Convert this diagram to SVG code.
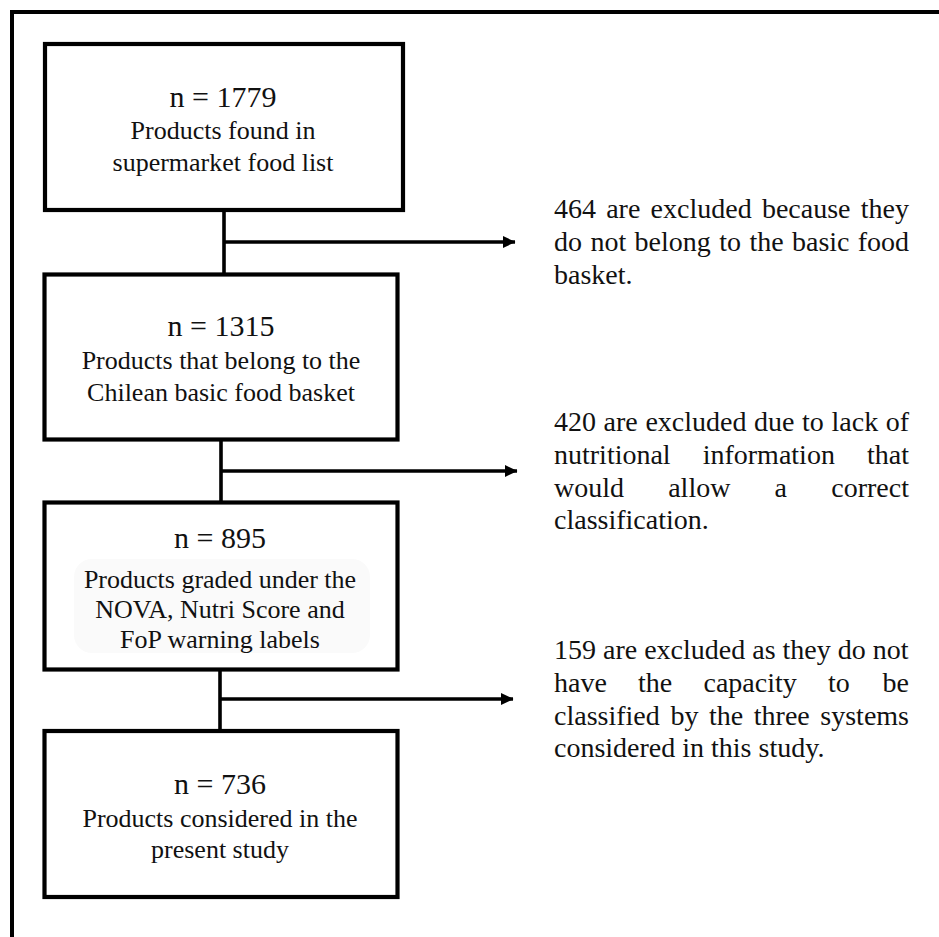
<svg xmlns="http://www.w3.org/2000/svg" width="939" height="937" viewBox="0 0 939 937">
  <defs>
    <style>
      .box { fill: #ffffff; stroke: #000000; stroke-width: 4.2; }
      .frame { fill: none; stroke: #000000; stroke-width: 4; }
      .conn { fill: none; stroke: #000000; stroke-width: 3.6; }
      .t { font-family: "Liberation Serif", "Times New Roman", serif; fill: #111111; }
      .n { font-size: 30px; text-anchor: middle; }
      .d { font-size: 26px; text-anchor: middle; }
      .r { font-size: 28px; }
      .e { text-anchor: end; }
    </style>
    <marker id="arrow" markerWidth="14" markerHeight="14" refX="12" refY="7" orient="auto" markerUnits="userSpaceOnUse">
      <path d="M0,1 L12.5,7 L0,13 Z" fill="#000000"/>
    </marker>
  </defs>

  <rect width="939" height="937" fill="#ffffff"/>

  <!-- outer frame (extends beyond the canvas on right and bottom) -->
  <rect class="frame" x="12" y="12" width="1000" height="1000"/>

  <!-- connectors -->
  <g id="connectors">
    <line class="conn" x1="224" y1="211" x2="224" y2="273"/>
    <line class="conn" x1="224" y1="242" x2="515" y2="242" marker-end="url(#arrow)"/>
    <line class="conn" x1="221" y1="440" x2="221" y2="502"/>
    <line class="conn" x1="221" y1="471" x2="517" y2="471" marker-end="url(#arrow)"/>
    <line class="conn" x1="220" y1="669" x2="220" y2="730"/>
    <line class="conn" x1="220" y1="699" x2="513" y2="699" marker-end="url(#arrow)"/>
  </g>

  <g id="node-1779">
    <rect class="box" x="45" y="44" width="358" height="166"/>
    <text class="t n" x="223" y="107">n = 1779</text>
    <text class="t d" x="223" y="139">Products found in</text>
    <text class="t d" x="223" y="171">supermarket food list</text>
  </g>

  <g id="node-1315">
    <rect class="box" x="44.5" y="274.5" width="353" height="165"/>
    <text class="t n" x="221" y="336">n = 1315</text>
    <text class="t d" x="221" y="369">Products that belong to the</text>
    <text class="t d" x="221" y="401">Chilean basic food basket</text>
  </g>

  <g id="node-895">
    <rect class="box" x="44.5" y="502.5" width="353" height="167"/>
    <rect x="74" y="559" width="296" height="94" rx="18" fill="#fafafa"/>
    <text class="t n" x="220" y="548">n = 895</text>
    <text class="t d" x="220" y="588">Products graded under the</text>
    <text class="t d" x="220" y="618">NOVA, Nutri Score and</text>
    <text class="t d" x="220" y="648">FoP warning labels</text>
  </g>

  <g id="node-736">
    <rect class="box" x="44.5" y="731" width="353" height="166"/>
    <text class="t n" x="220" y="794">n = 736</text>
    <text class="t d" x="220" y="827">Products considered in the</text>
    <text class="t d" x="220" y="858">present study</text>
  </g>

  <g id="excluded-464">
    <text class="t r" y="218"><tspan x="554">464</tspan><tspan x="606.2">are</tspan><tspan x="650.6">excluded</tspan><tspan x="761.9">because</tspan></text>
    <text class="t r e" x="909" y="218">they</text>
    <text class="t r" y="251"><tspan x="554">do</tspan><tspan x="590.4">not</tspan><tspan x="634.6">belong</tspan><tspan x="719.2">to</tspan><tspan x="749.4">the</tspan><tspan x="792">basic</tspan></text>
    <text class="t r e" x="909" y="251">food</text>
    <text class="t r" x="554" y="284">basket.</text>
  </g>

  <g id="excluded-420">
    <text class="t r" y="431"><tspan x="554">420</tspan><tspan x="603.6">are</tspan><tspan x="645.4">excluded</tspan><tspan x="754.1">due</tspan><tspan x="802.1">to</tspan><tspan x="831.5">lack</tspan></text>
    <text class="t r e" x="909" y="431">of</text>
    <text class="t r" y="464"><tspan x="554">nutritional</tspan><tspan x="702.7">information</tspan></text>
    <text class="t r e" x="909" y="464">that</text>
    <text class="t r" y="497"><tspan x="554">would</tspan><tspan x="668.2">allow</tspan><tspan x="774.6">a</tspan></text>
    <text class="t r e" x="909" y="497">correct</text>
    <text class="t r" x="554" y="529">classification.</text>
  </g>

  <g id="excluded-159">
    <text class="t r" x="554" y="659">159 are excluded as they do not</text>
    <text class="t r" y="692"><tspan x="554">have</tspan><tspan x="638.1">the</tspan><tspan x="703.5">capacity</tspan><tspan x="828">to</tspan></text>
    <text class="t r e" x="909" y="692">be</text>
    <text class="t r" y="725"><tspan x="554">classified</tspan><tspan x="670.4">by</tspan><tspan x="709">the</tspan><tspan x="753.8">three</tspan></text>
    <text class="t r e" x="909" y="725">systems</text>
    <text class="t r" x="554" y="757">considered in this study.</text>
  </g>
</svg>
